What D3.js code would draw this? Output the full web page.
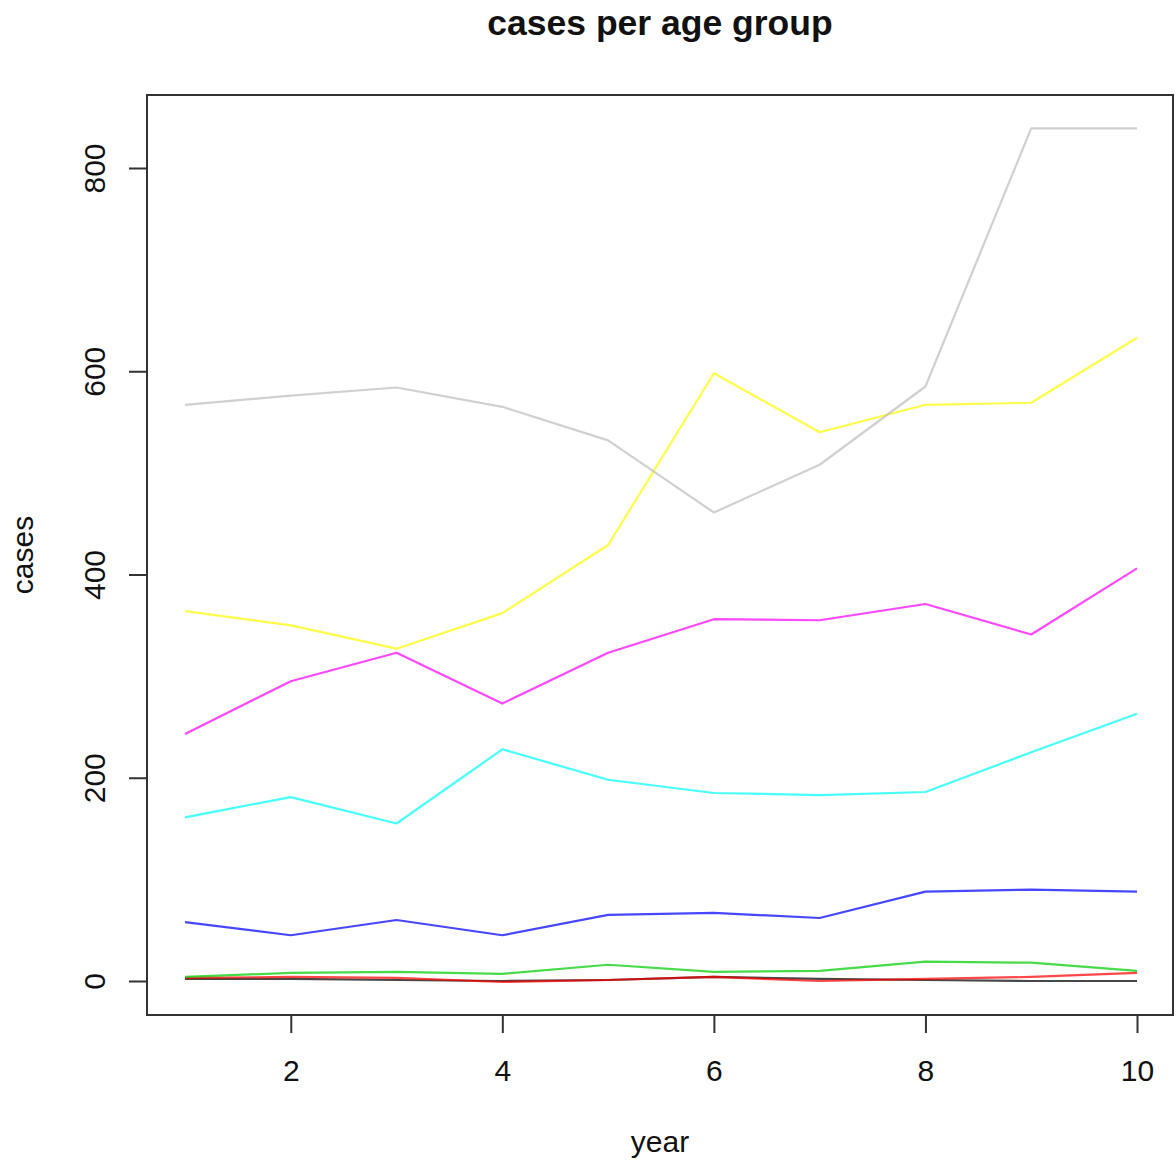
<!DOCTYPE html>
<html>
<head>
<meta charset="utf-8">
<script src="https://cdn.jsdelivr.net/npm/d3@7"></script>
<style>
  html, body { margin: 0; padding: 0; background: #fff; }
  svg { display: block; }
  text { font-family: "Liberation Sans", Arial, Helvetica, sans-serif; fill: #111; }
</style>
</head>
<body>
<svg id="chart" width="1176" height="1165"></svg>
<script>
const years = [1, 2, 3, 4, 5, 6, 7, 8, 9, 10];
const seriesNames = ["g1", "g2", "g3", "g4", "g5", "g6", "g7", "g8"];
const seriesColors = ["#000000", "#ff0000", "#00cd00", "#0000ff", "#00ffff", "#ff00ff", "#ffff00", "#bebebe"];
const g1 = [2, 2, 1, 0, 1, 4, 2, 1, 0, 0];
const g2 = [3, 4, 3, -1, 1, 4, 0, 2, 4, 8];
const g3 = [4, 8, 9, 7, 16, 9, 10, 19, 18, 10];
const g4 = [58, 45, 60, 45, 65, 67, 62, 88, 90, 88];
const g5 = [161, 181, 155, 228, 198, 185, 183, 186, 225, 263];
const g6 = [243, 295, 323, 273, 323, 356, 355, 371, 341, 406];
const g7 = [364, 350, 327, 362, 429, 598, 540, 567, 569, 633];
const g8 = [567, 576, 584, 565, 532, 461, 508, 585, 839, 839];
const seriesValues = [g1, g2, g3, g4, g5, g6, g7, g8];
const xTicks = [2, 4, 6, 8, 10];
const yTicks = [0, 200, 400, 600, 800];
const titleText = "cases per age group";
const xLabel = "year";
const yLabel = "cases";

const svg = d3.select("#chart");
const pLeft = 147, pRight = 1173, pTop = 95, pBottom = 1015;

const x = d3.scaleLinear().domain([1, 10]).range([185, 1137]);
const y = d3.scaleLinear().domain([0, 800]).range([981, 168]);

// lines
const line = d3.line().x((d, i) => x(years[i])).y(d => y(d));
seriesValues.forEach((vals, k) => {
  svg.append("path")
    .datum(vals)
    .attr("d", line)
    .attr("fill", "none")
    .attr("stroke", seriesColors[k])
    .attr("stroke-width", 2.2)
    .attr("stroke-opacity", 0.72)
    .attr("stroke-linejoin", "round");
});

// box
svg.append("rect")
  .attr("x", pLeft).attr("y", pTop)
  .attr("width", pRight - pLeft).attr("height", pBottom - pTop)
  .attr("fill", "none").attr("stroke", "#333").attr("stroke-width", 2);

// x axis
const xAxis = d3.axisBottom(x).tickValues(xTicks).tickSize(18).tickPadding(27).tickFormat(d3.format("d"));
const gx = svg.append("g").attr("transform", `translate(0,${pBottom})`).call(xAxis);
gx.select(".domain").attr("d", `M${x(2)},0H${x(10)}`).attr("stroke", "#333").attr("stroke-width", 2);
gx.selectAll(".tick line").attr("stroke", "#333").attr("stroke-width", 2);
gx.selectAll(".tick text").attr("font-size", 30).attr("font-family", "Liberation Sans, Arial, sans-serif").attr("fill", "#111");

// y axis
const yAxis = d3.axisLeft(y).tickValues(yTicks).tickSize(18).tickFormat(d3.format("d"));
const gy = svg.append("g").attr("transform", `translate(${pLeft},0)`).call(yAxis);
gy.select(".domain").attr("d", `M0,${y(0)}V${y(800)}`).attr("stroke", "#333").attr("stroke-width", 2);
gy.selectAll(".tick line").attr("stroke", "#333").attr("stroke-width", 2);
gy.selectAll(".tick text")
  .attr("font-size", 30)
  .attr("font-family", "Liberation Sans, Arial, sans-serif")
  .attr("fill", "#111")
  .attr("x", null).attr("dy", null)
  .attr("text-anchor", "middle")
  .attr("transform", `translate(${105 - pLeft},0) rotate(-90)`);

// title
svg.append("text")
  .attr("x", (pLeft + pRight) / 2).attr("y", 35)
  .attr("text-anchor", "middle")
  .attr("font-size", 35.5).attr("font-weight", "bold")
  .text(titleText);

// x label
svg.append("text")
  .attr("x", (pLeft + pRight) / 2).attr("y", 1152)
  .attr("text-anchor", "middle")
  .attr("font-size", 30)
  .text(xLabel);

// y label
svg.append("text")
  .attr("transform", `translate(33,${(pTop + pBottom) / 2}) rotate(-90)`)
  .attr("text-anchor", "middle")
  .attr("font-size", 30)
  .text(yLabel);
</script>
</body>
</html>
